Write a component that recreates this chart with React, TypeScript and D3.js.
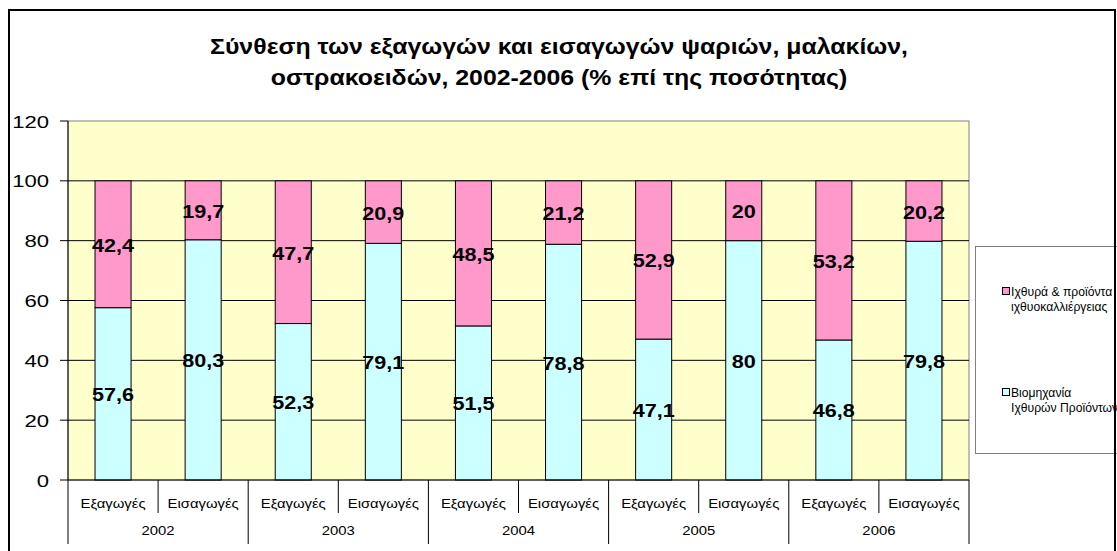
import React from 'react';
import * as d3 from 'd3';

const years = ['2002', '2003', '2004', '2005', '2006'];
const flows = ['Εξαγωγές', 'Εισαγωγές'];
const industry = [57.6, 80.3, 52.3, 79.1, 51.5, 78.8, 47.1, 80, 46.8, 79.8];
const fish = [42.4, 19.7, 47.7, 20.9, 48.5, 21.2, 52.9, 20, 53.2, 20.2];
const yTicks = [0, 20, 40, 60, 80, 100, 120];
const legendLines = [
  ['Ιχθυρά & προϊόντα', 'ιχθυοκαλλιέργειας'],
  ['Βιομηχανία', 'Ιχθυρών Προϊόντων'],
];
const titleLines = [
  'Σύνθεση των εξαγωγών και εισαγωγών ψαριών, μαλακίων,',
  'οστρακοειδών, 2002-2006 (% επί της ποσότητας)',
];

const PINK = '#FF99CC';
const CYAN = '#CCFFFF';
const BG = '#FFFFCC';
const FONT = 'Liberation Sans, Arial, sans-serif';

const fmt = (v: number) => String(v).replace('.', ',');

function SText(props: any) {
  const { x, y, sx = 1, anchor = 'middle', size, weight = 'normal', children, fill = '#000' } = props;
  return (
    <text
      transform={`translate(${x},${y}) scale(${sx},1)`}
      textAnchor={anchor}
      fontSize={size}
      fontWeight={weight}
      fontFamily={FONT}
      fill={fill}
    >
      {children}
    </text>
  );
}

export default function App() {
  const W = 1117;
  const H = 551;
  const left = 68, right = 969, top = 121, bottom = 480;
  const cats = d3.range(industry.length);
  const x = d3.scaleBand<number>().domain(cats).range([left, right]).padding(0);
  const y = d3.scaleLinear().domain([0, 120]).range([bottom, top]);
  const barW = x.bandwidth() * 0.4;

  const rows = cats.map((i) => ({ i, industry: industry[i], fish: fish[i] }));
  const stack = d3.stack<any>().keys(['industry', 'fish']);
  const layers = stack(rows);
  const colors = [CYAN, PINK];

  const step = x.step();

  return (
    <svg
      width={W}
      height={H}
      style={{ position: 'fixed', left: 0, top: 0, background: '#fff' }}
      xmlns="http://www.w3.org/2000/svg"
    >
      <rect x={0} y={0} width={W} height={H} fill="#fff" />
      {/* outer frame */}
      <rect x={9} y={10} width={1106} height={600} fill="#fff" stroke="#000" strokeWidth={2} />

      {/* title */}
      {titleLines.map((t, k) => (
        <SText key={k} x={559} y={54 + k * 31} sx={1.13} size={22} weight="bold">
          {t}
        </SText>
      ))}

      {/* plot area */}
      <rect x={left} y={top} width={right - left} height={bottom - top} fill={BG} stroke="#808080" strokeWidth={1} />
      {yTicks.filter((t) => t > 0 && t < 120).map((t) => (
        <line key={t} x1={left} x2={right} y1={y(t)} y2={y(t)} stroke="#000" strokeWidth={1} />
      ))}

      {/* bars */}
      {layers.map((layer, li) =>
        layer.map((d: any, i: number) => (
          <rect
            key={`${li}-${i}`}
            x={(x(i) as number) + (step - barW) / 2}
            y={y(d[1])}
            width={barW}
            height={y(d[0]) - y(d[1])}
            fill={colors[li]}
            stroke="#000"
            strokeWidth={1}
          />
        ))
      )}

      {/* data labels */}
      {layers.map((layer, li) =>
        layer.map((d: any, i: number) => {
          const v = li === 0 ? industry[i] : fish[i];
          const cy = (y(d[0]) + y(d[1])) / 2;
          return (
            <SText key={`l${li}-${i}`} x={(x(i) as number) + step / 2} y={cy + 7.5} sx={1.2} size={18} weight="bold">
              {fmt(v)}
            </SText>
          );
        })
      )}

      {/* y axis */}
      <line x1={left} x2={left} y1={top} y2={bottom} stroke="#000" strokeWidth={1} />
      {yTicks.map((t) => (
        <g key={t}>
          <line x1={60} x2={left} y1={y(t)} y2={y(t)} stroke="#000" strokeWidth={1} />
          <SText x={49} y={y(t) + 6.5} sx={1.38} anchor="end" size={16}>
            {t}
          </SText>
        </g>
      ))}

      {/* x axis */}
      <line x1={left} x2={right} y1={bottom} y2={bottom} stroke="#000" strokeWidth={1} />
      {cats.map((i) => (
        <g key={`c${i}`}>
          {i % 2 === 1 && (
            <line x1={x(i) as number} x2={x(i) as number} y1={bottom} y2={513} stroke="#000" strokeWidth={1} />
          )}
          <SText x={(x(i) as number) + step / 2} y={508} sx={1.24} size={12}>
            {flows[i % 2]}
          </SText>
        </g>
      ))}
      {years.map((yr, k) => {
        const x0 = left + k * 2 * step;
        return (
          <g key={yr}>
            <line x1={x0} x2={x0} y1={bottom} y2={544} stroke="#000" strokeWidth={1} />
            <SText x={x0 + step} y={535} sx={1.24} size={12}>
              {yr}
            </SText>
          </g>
        );
      })}
      <line x1={right} x2={right} y1={bottom} y2={544} stroke="#000" strokeWidth={1} />

      {/* legend */}
      <rect x={975.5} y={246.5} width={145} height={207} fill="#fff" stroke="#808080" strokeWidth={1} />
      {legendLines.map((lines, k) => {
        const by = k === 0 ? 296 : 397;
        return (
          <g key={k}>
            <rect x={1002.5} y={by - 8.5} width={7} height={7} fill={k === 0 ? PINK : CYAN} stroke="#000" strokeWidth={1} />
            {lines.map((ln, j) => (
              <SText key={j} x={1011} y={by + j * 15} sx={0.935} anchor="start" size={13}>
                {ln}
              </SText>
            ))}
          </g>
        );
      })}
      <line x1={1115} x2={1115} y1={9} y2={H} stroke="#000" strokeWidth={2} />
    </svg>
  );
}
